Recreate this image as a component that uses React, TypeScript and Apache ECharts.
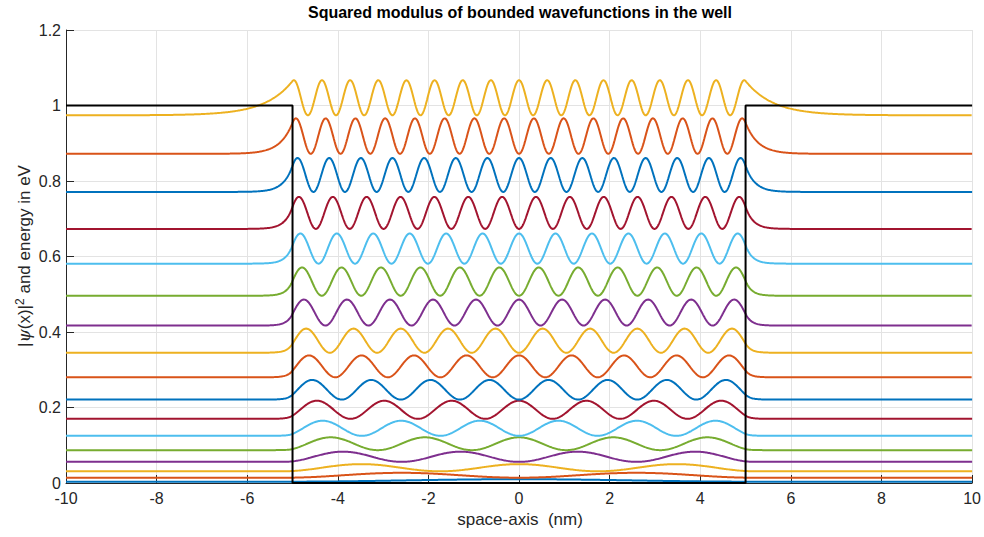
import React, { useEffect, useRef } from "react";
import * as echarts from "echarts";

// Energy levels (eV) of the bounded states n = 1..17, read from the flat tails
const energies = [0.0035, 0.014, 0.031, 0.056, 0.087, 0.125, 0.17, 0.221, 0.28, 0.345, 0.417, 0.496, 0.581, 0.673, 0.771, 0.872, 0.974];
// Peak height of |psi|^2 above each level (eV units of the plot)
const amplitudes = [0.0065, 0.013, 0.019, 0.027, 0.034, 0.04, 0.048, 0.052, 0.058, 0.064, 0.069, 0.075, 0.08, 0.085, 0.09, 0.094, 0.093];
// Potential profile of the well
const potentialX = [-10, -5, -5, 5, 5, 10];
const potentialY = [1, 1, 0, 0, 1, 1];
// Axis ticks
const xTicks = [-10, -8, -6, -4, -2, 0, 2, 4, 6, 8, 10];
const yTicks = [0, 0.2, 0.4, 0.6, 0.8, 1, 1.2];

const colors = ["#0072BD", "#D95319", "#EDB120", "#7E2F8E", "#77AC30", "#4DBEEE", "#A2142F"];

const V0 = 1; // barrier height eV
const HALF = 5; // half width nm
const K0 = 5.123; // sqrt(2 m_e * 1eV)/hbar in 1/nm

function stateCurve(n: number, E: number, A: number): number[][] {
  const k = K0 * Math.sqrt(E);
  const kappa = K0 * Math.sqrt(V0 - E);
  const inside = (x: number) => {
    const v = n % 2 === 1 ? Math.cos(k * x) : Math.sin(k * x);
    return v * v;
  };
  const edge = inside(HALF);
  const pts: number[][] = [];
  for (let i = 0; i <= 2000; i++) {
    const x = -10 + i * 0.01;
    const ax = Math.abs(x);
    const p = ax <= HALF ? inside(x) : edge * Math.exp(-2 * kappa * (ax - HALF));
    pts.push([x, E + A * p]);
  }
  return pts;
}

const FONT = "'Liberation Sans', Arial, Helvetica, sans-serif";

export default function App() {
  const ref = useRef<HTMLDivElement>(null);
  useEffect(() => {
    if (!ref.current) return;
    const chart = echarts.init(ref.current, undefined, { renderer: "svg" });
    const series: any[] = energies.map((E, i) => ({
      type: "line",
      name: "n=" + (i + 1),
      data: stateCurve(i + 1, E, amplitudes[i]),
      showSymbol: false,
      symbol: "none",
      lineStyle: { color: colors[i % colors.length], width: 2 },
      z: 3,
    }));
    series.push({
      type: "line",
      name: "V(x)",
      data: potentialX.map((x, i) => [x, potentialY[i]]),
      showSymbol: false,
      symbol: "none",
      lineStyle: { color: "#000000", width: 2 },
      z: 4,
    });
    chart.setOption({
      animation: false,
      grid: { left: 66, right: 9, top: 30, bottom: 54, containLabel: false },
      xAxis: {
        type: "value",
        min: -10,
        max: 10,
        interval: 2,
        axisLine: { show: true, onZero: false, lineStyle: { color: "#262626", width: 1 } },
        axisTick: { show: true, inside: true, length: 8, lineStyle: { color: "#262626" } },
        axisLabel: {
          color: "#262626",
          fontSize: 16,
          fontFamily: FONT,
          margin: 7,
          formatter: (v: number) => (xTicks.includes(v) ? String(v) : ""),
        },
        splitLine: { show: true, lineStyle: { color: "#e3e3e3", width: 1 } },
      },
      yAxis: {
        type: "value",
        min: 0,
        max: 1.2,
        interval: 0.2,
        axisLine: { show: true, onZero: false, lineStyle: { color: "#262626", width: 1 } },
        axisTick: { show: true, inside: true, length: 8, lineStyle: { color: "#262626" } },
        axisLabel: {
          color: "#262626",
          fontSize: 16,
          fontFamily: FONT,
          margin: 5,
          formatter: (v: number) => {
            const r = Math.round(v * 10) / 10;
            return yTicks.includes(r) ? String(r) : "";
          },
        },
        splitLine: { show: true, lineStyle: { color: "#e3e3e3", width: 1 } },
      },
      graphic: [
        {
          type: "text",
          x: 520,
          y: 4,
          style: {
            text: "Squared modulus of bounded wavefunctions in the well",
            font: "bold 16px " + FONT,
            fill: "#000000",
            textAlign: "center",
          },
        },
        {
          type: "text",
          x: 520,
          y: 511,
          style: {
            text: "space-axis  (nm)",
            font: "17px " + FONT,
            fill: "#262626",
            textAlign: "center",
          },
        },
        {
          type: "text",
          x: 24,
          y: 256,
          rotation: Math.PI / 2,
          style: {
            text: "|{i|ψ}(x)|{s|2} and energy in eV",
            font: "17px " + FONT,
            fill: "#262626",
            textAlign: "center",
            textVerticalAlign: "middle",
            rich: {
              i: { font: "italic 17px 'DejaVu Serif', serif", fill: "#262626" },
              s: { font: "12px " + FONT, fill: "#262626", padding: [0, 0, 9, 0] },
            },
          },
        },
      ],
      series,
    });
    return () => chart.dispose();
  }, []);
  return <div ref={ref} style={{ width: 984, height: 537, position: "absolute", left: 0, top: 0 }} />;
}
